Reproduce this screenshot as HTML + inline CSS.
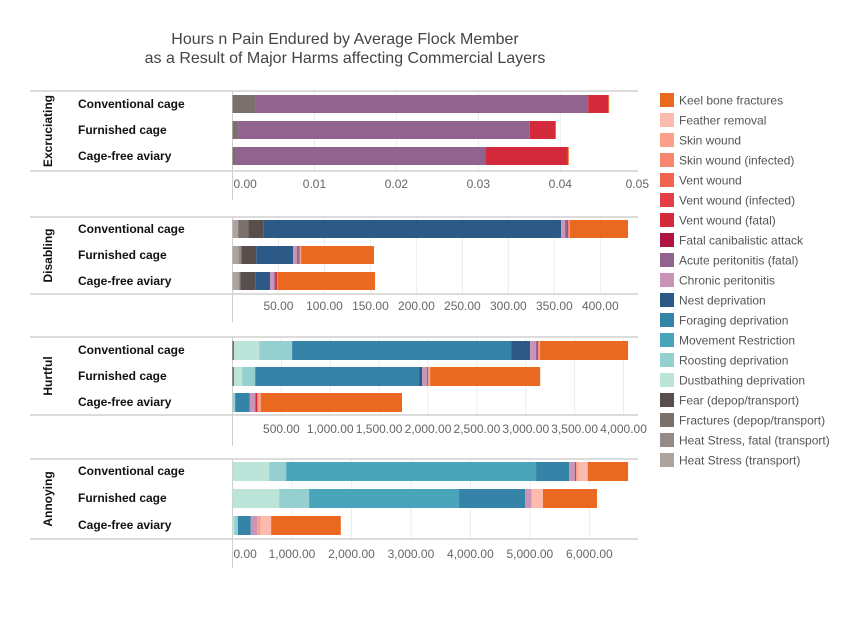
<!DOCTYPE html>
<html><head><meta charset="utf-8"><style>
body{margin:0;background:#fff;}
svg text{font-family:"Liberation Sans",sans-serif;}
</style></head><body>
<svg id="c" width="856" height="612" xmlns="http://www.w3.org/2000/svg">
<text x="345" y="44" text-anchor="middle" font-size="16" fill="#444">Hours n Pain Endured by Average Flock Member</text>
<text x="345" y="63" text-anchor="middle" font-size="16" fill="#444">as a Result of Major Harms affecting Commercial Layers</text>
<g id="plots"></g>
<g id="legend"></g>
</svg>
<script>
const seriesNames = ["Heat Stress (transport)","Heat Stress, fatal (transport)","Fractures (depop/transport)","Fear (depop/transport)","Dustbathing deprivation","Roosting deprivation","Movement Restriction","Foraging deprivation","Nest deprivation","Chronic peritonitis","Acute peritonitis (fatal)","Fatal canibalistic attack","Vent wound (fatal)","Vent wound (infected)","Vent wound","Skin wound (infected)","Skin wound","Feather removal","Keel bone fractures"];
const seriesColors = ["#ADA39F","#958A86","#7B706C","#584E4C","#BDE4D9","#96CFCF","#4AA5BA","#3584A7","#2D5986","#C994B6","#90648E","#AF1540","#D32B3C","#E23F48","#F0634F","#F7866F","#FBA08B","#FDBBAE","#E8691F"];
const categories = ["Conventional cage","Furnished cage","Cage-free aviary"];
const panelNames = ["Excruciating","Disabling","Hurtful","Annoying"];
// values in stack order (index matches seriesNames)
const excruciatingValues = [
 [0,0,0.0028,0,0,0,0,0,0,0,0.0406,0,0.00246,0,0,0,0,0,0.0001],
 [0,0,0.00068,0,0,0,0,0,0,0,0.0356,0,0.0031,0,0,0,0,0,0.0001],
 [0,0,0.00043,0,0,0,0,0,0,0,0.0304,0,0.0101,0,0,0,0,0,0.0001]];
const disablingValues = [
 [6.2,0,10.9,16.3,0,0,0,0,324,4.3,2.2,0,1.4,0,0,0,1.4,0,63.4],
 [6.2,3.3,0,16.3,0,0,0,0,40.2,4,2.2,0,0,0,1.4,0,1,0,79.3],
 [6.2,2.2,0,16.3,0,0,0,0,16.3,4.3,1.4,0,1.8,0,0.7,0,0,0,105.8]];
const hurtfulValues = [
 [0,0,0,14,259,337,0,2240,194,61,14,0,10,0,0,0,17,0,900],
 [0,0,0,14,85,133,0,1677,31,48,14,0,0,0,0,0,20,0,1125],
 [0,0,0,0,0,27,0,150,0,58,0,0,20,0,0,0,34,0,1445]];
const annoyingValues = [
 [0,0,0,0,616,286,4202,555,0,101,0,0,17,0,0,0,39,157,678],
 [0,0,0,0,784,504,2521,1109,0,112,0,0,0,0,0,0,0,190,908],
 [0,0,0,0,28,62,0,218,0,106,0,0,0,0,0,0,62,174,1171]];
const domainMax = [0.04948,441,4148,6818];
const tickValues = [[0,0.01,0.02,0.03,0.04,0.05],[50,100,150,200,250,300,350,400],[500,1000,1500,2000,2500,3000,3500,4000],[0,1000,2000,3000,4000,5000,6000]];
const tickLabels = [["0.00","0.01","0.02","0.03","0.04","0.05"],["50.00","100.00","150.00","200.00","250.00","300.00","350.00","400.00"],["500.00","1,000.00","1,500.00","2,000.00","2,500.00","3,000.00","3,500.00","4,000.00"],["0.00","1,000.00","2,000.00","3,000.00","4,000.00","5,000.00","6,000.00"]];
const allValues = [excruciatingValues,disablingValues,hurtfulValues,annoyingValues];

const NS="http://www.w3.org/2000/svg";
const X0=232.5, X1=638;
const layout=[{top:91,bars:[95,121,147],bot:171,lab:188,axEnd:200},{top:217,bars:[220,246,272],bot:294,lab:310,axEnd:322},{top:337,bars:[341,367,393],bot:415,lab:433,axEnd:446},{top:459,bars:[462,489,516],bot:539,lab:558,axEnd:568}];
const barH=[18,18,19,19];
function mk(tag,attrs,parent){const e=document.createElementNS(NS,tag);for(const k in attrs)e.setAttribute(k,attrs[k]);parent.appendChild(e);return e;}
const plots=document.getElementById('plots');
for(let p=0;p<4;p++){
  const L=layout[p];
  const xs=v=>X0+v/domainMax[p]*(X1-X0);
  const g=mk('g',{},plots);
  
  
  tickValues[p].forEach(t=>{ if(t>0 && xs(t)<X1){const gl=mk('line',{x1:xs(t),x2:xs(t),y1:L.top,y2:L.bot,stroke:'#ececec','stroke-width':1},g);
    
    }});
  [L.top,L.bot].forEach(y=>{const bl=mk('line',{x1:30,x2:X1,y1:y,y2:y,stroke:'#d0d0d0','stroke-width':1.5},g);
    
    });
  const ax=mk('line',{x1:X0,x2:X0,y1:L.top,y2:L.axEnd,stroke:'#d0d0d0','stroke-width':1},g);
  
  
  const cy=(L.top+L.bot)/2;
  const pt=mk('text',{x:0,y:0,transform:`translate(52,${cy}) rotate(-90)`,'text-anchor':'middle','font-size':12,'font-weight':'bold',fill:'#111'},g);
  pt.textContent=panelNames[p];
  
  
  allValues[p].forEach((row,r)=>{
    const y=L.bars[r];
    const cl=mk('text',{x:78,y:y+13,'font-size':12,'font-weight':'bold',fill:'#111'},g);
    cl.textContent=categories[r];
    
    
    let acc=0;
    row.forEach((v,s)=>{ if(v<=0)return;
      const x=xs(acc), w=xs(acc+v)-x; acc+=v;
      const rc=mk('rect',{x:x,y:y,width:Math.max(w,0.5),height:barH[p],fill:seriesColors[s]},g);
      
      
    });
  });
  tickValues[p].forEach((t,i)=>{
    let x=xs(t), anchor='middle';
    if(t===0){x=X0+1;anchor='start';}
    if(x>X1){x=649;anchor='end';}
    const tl=mk('text',{x:x,y:L.lab,'text-anchor':anchor,'font-size':12,fill:'#666'},g);
    tl.textContent=tickLabels[p][i];
    
    
  });
}
const leg=document.getElementById('legend');


for(let i=0;i<19;i++){
  const s=18-i, y=93+20*i;
  const gi=mk('g',{},leg);
  
  
  mk('rect',{x:660,y:y,width:14,height:14,fill:seriesColors[s]},gi);
  const t=mk('text',{x:679,y:y+11.5,'font-size':12,fill:'#555'},gi);
  t.textContent=seriesNames[s];
}
</script>
</body></html>
